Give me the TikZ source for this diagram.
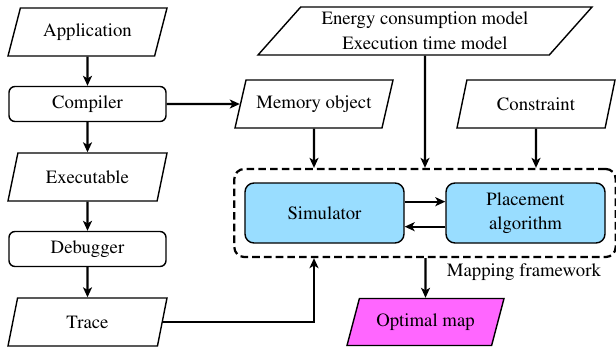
\documentclass[tikz,border=0pt]{standalone}
\usepackage[T1]{fontenc}
\usepackage{mathptmx}
\usepackage{xcolor}
\definecolor{simBlue}{HTML}{99DDFF}
\definecolor{optPink}{HTML}{FF66FF}
\usetikzlibrary{shapes, arrows.meta, positioning, fit, calc}
\tikzset{
  iobox/.style={trapezium, trapezium left angle=57, trapezium right angle=123, trapezium stretches body, draw, line width=1.2pt, minimum width=4.77cm, minimum height=1.44cm, inner xsep=0pt, inner ysep=1pt, align=center},
  procbox/.style={rectangle, rounded corners=0.18cm, draw, line width=1.2pt, minimum width=4.71cm, minimum height=1.05cm},
  corebox/.style={rectangle, rounded corners=0.27cm, draw, fill=simBlue, line width=1.2pt, minimum width=4.77cm, minimum height=1.8cm, align=center},
  flow/.style={-{Stealth[length=0.3cm, width=0.27cm, inset=0.08cm]}, line width=1.9pt},
}

\begin{document}
\begin{tikzpicture}[x=0.03cm, y=-0.03cm, font=\fontsize{16}{21}\selectfont]
  \useasboundingbox (0,0) rectangle (616,352);
  % tool chain on the left
  \foreach \name/\txt/\y in {app/Application/32, exe/Executable/177, trace/Trace/322}
    \node[iobox] (\name) at (87.5,\y) {\txt};
  \foreach \name/\txt/\y in {comp/Compiler/104, dbg/Debugger/249}
    \node[procbox] (\name) at (87.5,\y) {\txt};
  \foreach \a/\b in {app/comp, comp/exe, exe/dbg, dbg/trace}
    \draw[flow] (\a) -- (\b);

  % inputs of the framework
  \node[iobox, trapezium left angle=43, trapezium right angle=137, minimum width=10.02cm] (energy) at (425,31) {Energy consumption model\\Execution time model};
  \node[iobox, trapezium left angle=60, trapezium right angle=120, minimum width=4.74cm, inner xsep=-0.24cm] (mem) at (314,104) {Memory object};
  \node[iobox, minimum width=4.74cm] (cons) at (536,104) {Constraint};

  % mapping framework
  \node[corebox] (sim) at (324.5,213) {Simulator};
  \node[corebox] (pla) at (525.5,213) {Placement\\algorithm};
  \node[draw, dashed, dash pattern=on 6.5pt off 3.5pt, line width=1.9pt, rounded corners=0.3cm, inner xsep=0.3cm, inner ysep=0.4cm, fit=(sim)(pla)] (frame) {};
  \node[anchor=east] (maplbl) at (605,272) {Mapping framework};
  \node[iobox, fill=optPink, minimum width=4.71cm, minimum height=1.41cm] (opt) at (425.5,322) {Optimal map};

  \draw[flow] (comp) -- (mem);
  \draw[flow] (mem) -- (mem |- frame.north);
  \draw[flow] (energy) -- (energy |- frame.north);
  \draw[flow] (cons) -- (cons |- frame.north);
  \draw[flow] ([yshift=0.34cm]sim.east) -- ([yshift=0.34cm]pla.west);
  \draw[flow] ([yshift=-0.41cm]pla.west) -- ([yshift=-0.41cm]sim.east);
  \draw[flow] (trace) -| (mem |- frame.south);
  \draw[flow] (opt |- frame.south) -- (opt);
\end{tikzpicture}
\end{document}
